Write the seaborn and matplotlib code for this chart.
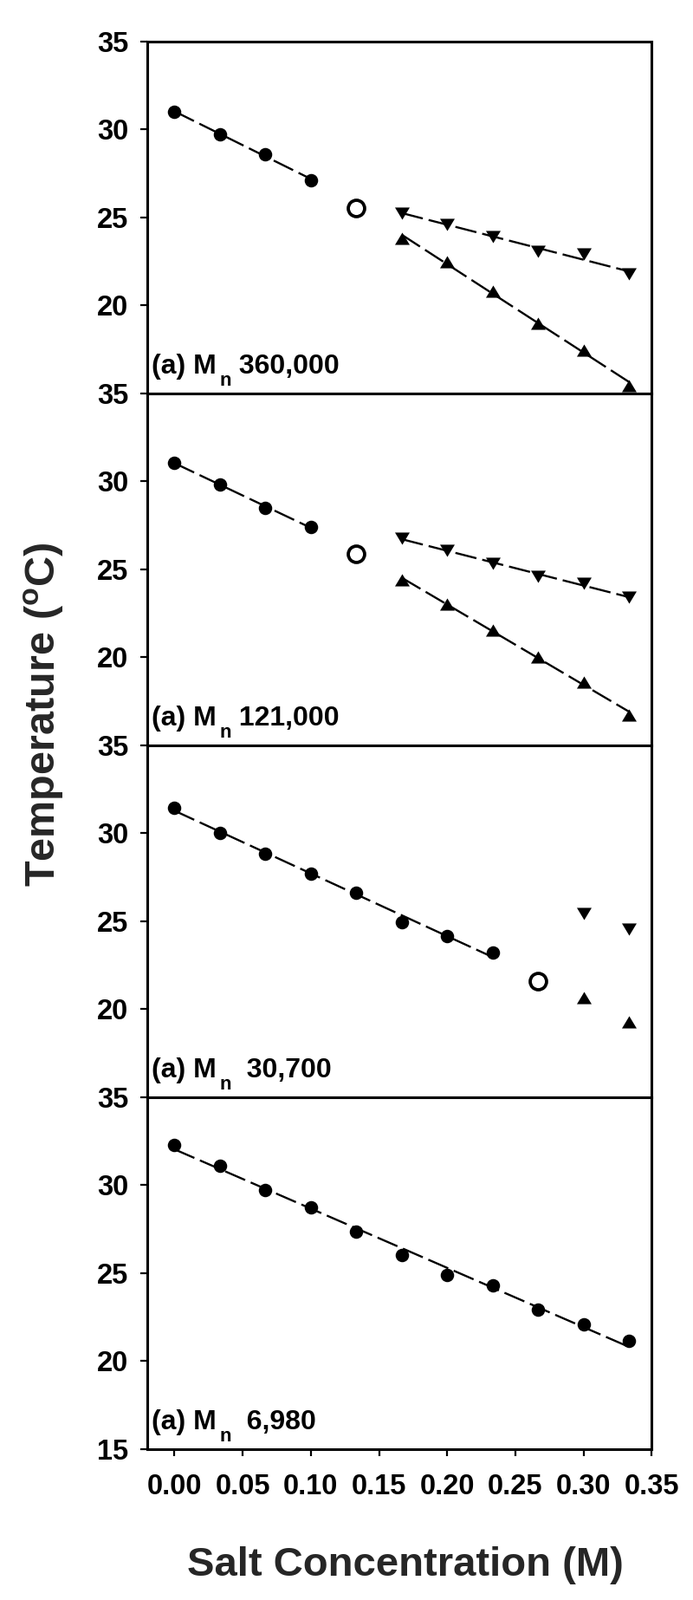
import matplotlib
matplotlib.use("Agg")
import matplotlib.pyplot as plt
import seaborn as sns
import numpy as np
import pandas as pd

# ---------------- data ----------------
conc = [0.0, 0.0333, 0.0667, 0.1, 0.1333, 0.1667, 0.2, 0.2333, 0.2667, 0.3, 0.3333]

label_prefix = "(a) M"
label_sub = "n"
label_values = [" 360,000", " 121,000", "  30,700", "  6,980"]

# panel 1 (Mn 360,000)
p1_circ_x = [0.0, 0.0333, 0.0667, 0.1]
p1_circ_y = [31.0, 29.7, 28.6, 27.1]
p1_open_x = [0.1333]
p1_open_y = [25.55]
p1_down_x = [0.1667, 0.2, 0.2333, 0.2667, 0.3, 0.3333]
p1_down_y = [25.25, 24.6, 23.9, 23.05, 22.9, 21.8]
p1_up_x = [0.1667, 0.2, 0.2333, 0.2667, 0.3, 0.3333]
p1_up_y = [23.8, 22.45, 20.8, 19.0, 17.45, 15.45]

# panel 2 (Mn 121,000)
p2_circ_x = [0.0, 0.0333, 0.0667, 0.1]
p2_circ_y = [31.05, 29.8, 28.5, 27.4]
p2_open_x = [0.1333]
p2_open_y = [25.85]
p2_down_x = [0.1667, 0.2, 0.2333, 0.2667, 0.3, 0.3333]
p2_down_y = [26.75, 26.05, 25.35, 24.6, 24.2, 23.4]
p2_up_x = [0.1667, 0.2, 0.2333, 0.2667, 0.3, 0.3333]
p2_up_y = [24.4, 23.0, 21.55, 20.0, 18.6, 16.7]

# panel 3 (Mn 30,700)
p3_circ_x = [0.0, 0.0333, 0.0667, 0.1, 0.1333, 0.1667, 0.2, 0.2333]
p3_circ_y = [31.45, 30.0, 28.85, 27.7, 26.6, 24.95, 24.15, 23.2]
p3_open_x = [0.2667]
p3_open_y = [21.6]
p3_down_x = [0.3, 0.3333]
p3_down_y = [25.45, 24.55]
p3_up_x = [0.3, 0.3333]
p3_up_y = [20.65, 19.25]

# panel 4 (Mn 6,980)
p4_circ_x = conc
p4_circ_y = [32.3, 31.1, 29.7, 28.75, 27.35, 26.0, 24.9, 24.3, 22.9, 22.1, 21.15]

xticks = [0.00, 0.05, 0.10, 0.15, 0.20, 0.25, 0.30, 0.35]
xtick_labels = ["0.00", "0.05", "0.10", "0.15", "0.20", "0.25", "0.30", "0.35"]

# ---------------- style ----------------
sns.set_style("ticks")
plt.rcParams["font.family"] = ["Liberation Sans", "DejaVu Sans"]
plt.rcParams["font.weight"] = "bold"
plt.rcParams["mathtext.fontset"] = "custom"
plt.rcParams["mathtext.rm"] = "Liberation Sans:bold"
plt.rcParams["mathtext.bf"] = "Liberation Sans:bold"
plt.rcParams["mathtext.it"] = "Liberation Sans:bold"
plt.rcParams["mathtext.default"] = "bf"
plt.rcParams["lines.scale_dashes"] = False

fig = plt.figure(figsize=(8, 18.46), dpi=100)
axes = fig.subplots(4, 1, sharex=True)
fig.subplots_adjust(left=0.2125, right=0.9404, top=0.97416, bottom=0.09442, hspace=0)

tri_up = [(0, 0.83), (-1, -0.83), (1, -0.83)]
tri_dn = [(0, -0.83), (-1, 0.83), (1, 0.83)]

line_kws = dict(color="black", lw=1.7, linestyle=(0, (18, 5)))


def fit(ax, x, y):
    sns.regplot(x=np.array(x), y=np.array(y), ax=ax, ci=None, scatter=False,
                truncate=True, line_kws=line_kws)


def pts(ax, x, y, kind):
    df = pd.DataFrame({"x": x, "y": y})
    if kind == "circ":
        sns.scatterplot(data=df, x="x", y="y", ax=ax, marker="o", s=125,
                        color="black", linewidth=0, zorder=3)
    elif kind == "open":
        sns.scatterplot(data=df, x="x", y="y", ax=ax, marker="o", s=185,
                        facecolor="white", edgecolor="black", linewidth=2.7, zorder=3)
    elif kind == "up":
        sns.scatterplot(data=df, x="x", y="y", ax=ax, marker=tri_up, s=150,
                        color="black", linewidth=0, zorder=3)
    elif kind == "down":
        sns.scatterplot(data=df, x="x", y="y", ax=ax, marker=tri_dn, s=150,
                        color="black", linewidth=0, zorder=3)


ax = axes[0]
fit(ax, p1_circ_x, p1_circ_y)
fit(ax, p1_down_x, p1_down_y)
fit(ax, p1_up_x, p1_up_y)
pts(ax, p1_circ_x, p1_circ_y, "circ")
pts(ax, p1_open_x, p1_open_y, "open")
pts(ax, p1_down_x, p1_down_y, "down")
pts(ax, p1_up_x, p1_up_y, "up")

ax = axes[1]
fit(ax, p2_circ_x, p2_circ_y)
fit(ax, p2_down_x, p2_down_y)
fit(ax, p2_up_x, p2_up_y)
pts(ax, p2_circ_x, p2_circ_y, "circ")
pts(ax, p2_open_x, p2_open_y, "open")
pts(ax, p2_down_x, p2_down_y, "down")
pts(ax, p2_up_x, p2_up_y, "up")

ax = axes[2]
fit(ax, p3_circ_x, p3_circ_y)
pts(ax, p3_circ_x, p3_circ_y, "circ")
pts(ax, p3_open_x, p3_open_y, "open")
pts(ax, p3_down_x, p3_down_y, "down")
pts(ax, p3_up_x, p3_up_y, "up")

ax = axes[3]
fit(ax, p4_circ_x, p4_circ_y)
pts(ax, p4_circ_x, p4_circ_y, "circ")

for i, ax in enumerate(axes):
    ax.set_xlim(-0.02, 0.35)
    ax.set_ylim(15, 35)
    ax.set_xlabel("")
    ax.set_ylabel("")
    if i < 3:
        ax.set_yticks([20, 25, 30, 35])
    else:
        ax.set_yticks([15, 20, 25, 30, 35])
    ax.set_xticks(xticks)
    for sp in ax.spines.values():
        sp.set_visible(True)
        sp.set_linewidth(2.2)
        sp.set_color("black")
    ax.tick_params(axis="x", direction="out", length=5.5, width=1.6, pad=15,
                   labelsize=23.5, top=False, bottom=True, colors="black")
    ax.tick_params(axis="y", direction="out", length=5.5, width=1.6, pad=10,
                   labelsize=23.5, left=True, right=False, colors="black")
    for t in ax.get_yticklabels():
        t.set_fontweight("bold")
    # panel label: "(a) M" + lowered subscript "n" + value on the main baseline
    t1 = ax.text(0.0086, 0.055, label_prefix, transform=ax.transAxes, ha="left",
                 va="baseline", fontsize=23, fontweight="bold", color="black")
    t2 = ax.annotate(label_sub, xy=(1, 0), xycoords=t1, xytext=(2.5, -8.5),
                     textcoords="offset points", ha="left", va="bottom",
                     fontsize=16, fontweight="bold", color="black")
    ax.annotate(label_values[i], xy=(1, 0), xycoords=(t2, t1), xytext=(0, 0),
                textcoords="offset points", ha="left", va="bottom",
                fontsize=23, fontweight="bold", color="black")

axes[3].set_xticklabels(xtick_labels, fontweight="bold")
for ax in axes[:3]:
    ax.tick_params(axis="x", labelbottom=False)

fig.text(0.063, 0.5536, "Temperature ($^{o}$C)", rotation=90, ha="center",
         va="center", fontsize=35, fontweight="bold")
fig.text(0.585, 0.01502, "Salt Concentration (M)", ha="center", va="baseline",
         fontsize=34, fontweight="bold")

fig.savefig("out.png", dpi=100, facecolor="white")
